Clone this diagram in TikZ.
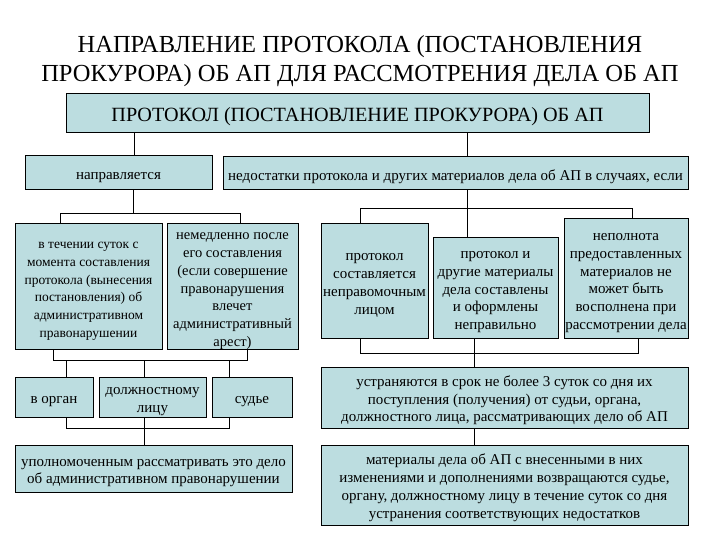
\documentclass[tikz,border=0pt]{standalone}
\usepackage{fontspec}
\setmainfont{Liberation Serif}
\definecolor{boxfill}{HTML}{BCDDE0}
\tikzset{
  box/.style={draw=black, line width=1pt, fill=boxfill, inner sep=0pt},
  boxtext/.style={inner sep=0pt, yshift=-3pt},
  conn/.style={draw=black, line width=0.9pt},
}
\newcommand{\ml}[1]{\begin{tabular}{@{}c@{}}#1\end{tabular}}
\newcommand{\bx}[7][15]{\node[box, minimum width=#5-#3, minimum height=#6-#4,
  label={[boxtext, font=\fontsize{#1}{17.8}\selectfont]center:{\ml{#7}}}] (#2) at ({(#3+#5)/2},{(#4+#6)/2}) {};}
\begin{document}
\begin{tikzpicture}[x=1pt,y=-1pt]
\useasboundingbox (0,0) rectangle (720,540);
\fill[white] (0,0) rectangle (720,540);
\node[font=\fontsize{24.5}{28.5}\selectfont, align=center] (title) at (360,61)
  {НАПРАВЛЕНИЕ ПРОТОКОЛА (ПОСТАНОВЛЕНИЯ\\ПРОКУРОРА) ОБ АП ДЛЯ РАССМОТРЕНИЯ ДЕЛА ОБ АП};
\node[box, minimum width=583, minimum height=39,
  label={[boxtext, font=\fontsize{20.2}{24}\selectfont]center:{ПРОТОКОЛ (ПОСТАНОВЛЕНИЕ ПРОКУРОРА) ОБ АП}}]
  (top) at (357.5,113.5) {};
\bx{napr}{25}{156}{212}{190}{направляется}
\bx{ned}{223}{157}{688}{190}{недостатки протокола и других материалов дела об АП в случаях, если}
\bx[13.5]{vtech}{15}{224}{162}{349}{в течении суток с\\момента составления\\протокола (вынесения\\постановления) об\\административном\\правонарушении}
\bx[14.5]{nemed}{167}{224}{298}{349}{немедленно после\\его составления\\(если совершение\\правонарушения\\влечет\\административный\\арест)}
\bx{prot1}{321}{224}{428}{338}{протокол\\составляется\\неправомочным\\лицом}
\bx{prot2}{433}{237}{558}{338}{протокол и\\другие материалы\\дела составлены\\и оформлены\\неправильно}
\bx{nepoln}{564}{219}{688}{338}{неполнота\\предоставленных\\материалов не\\может быть\\восполнена при\\рассмотрении дела}
\bx{organ}{15}{377}{93}{417}{в орган}
\bx{dolzh}{99}{377}{206}{417}{должностному\\лицу}
\bx{sudye}{212}{377}{292}{417}{судье}
\bx{upoln}{15}{445}{292}{492}{уполномоченным рассматривать это дело\\об административном правонарушении}
\bx{ustr}{321}{367}{688}{428}{устраняются в срок не более 3 суток со дня их\\поступления (получения) от судьи, органа,\\должностного лица, рассматривающих дело об АП}
\bx{mater}{321}{445}{688}{525}{материалы дела об АП с внесенными в них\\изменениями и дополнениями возвращаются судье,\\органу, должностному лицу в течение суток со дня\\устранения соответствующих недостатков}
% junction coordinates
\coordinate (t1) at (134,0);
\coordinate (t2) at (467,0);
\coordinate (a0) at (133,213);
\coordinate (a1) at (60,213);
\coordinate (a2) at (240,213);
\coordinate (b1) at (53,360);
\coordinate (b2) at (247,360);
\coordinate (c1) at (66,0);
\coordinate (c2) at (144,0);
\coordinate (c3) at (229,0);
\coordinate (d1) at (66,428);
\coordinate (d2) at (229,428);
\coordinate (e0) at (467,208);
\coordinate (e1) at (360,208);
\coordinate (e2) at (632,208);
\coordinate (f1) at (360,353);
\coordinate (f2) at (638,353);
\coordinate (f0) at (474,353);
% connectors
\draw[conn] (top.south -| t1) -- (napr.north -| t1);
\draw[conn] (top.south -| t2) -- (ned.north -| t2);
\draw[conn] (napr.south -| a0) -- (a0);
\draw[conn] (a1 |- vtech.north) -- (a1) -- (a2) -- (a2 |- nemed.north);
\draw[conn] (b1 |- vtech.south) -- (b1) -- (b2) -- (b2 |- nemed.south);
\draw[conn] (b1 -| c1) -- (organ.north -| c1);
\draw[conn] (b1 -| c2) -- (dolzh.north -| c2);
\draw[conn] (b1 -| c3) -- (sudye.north -| c3);
\draw[conn] (d1 |- organ.south) -- (d1) -- (d2) -- (d2 |- sudye.south);
\draw[conn] (dolzh.south -| c2) -- (upoln.north -| c2);
\draw[conn] (ned.south -| e0) -- (prot2.north -| e0);
\draw[conn] (e1 |- prot1.north) -- (e1) -- (e2) -- (e2 |- nepoln.north);
\draw[conn] (f1 |- prot1.south) -- (f1) -- (f2) -- (f2 |- nepoln.south);
\draw[conn] (prot2.south -| f0) -- (ustr.north -| f0);
\draw[conn] (ustr.south -| f0) -- (mater.north -| f0);
\end{tikzpicture}
\end{document}
